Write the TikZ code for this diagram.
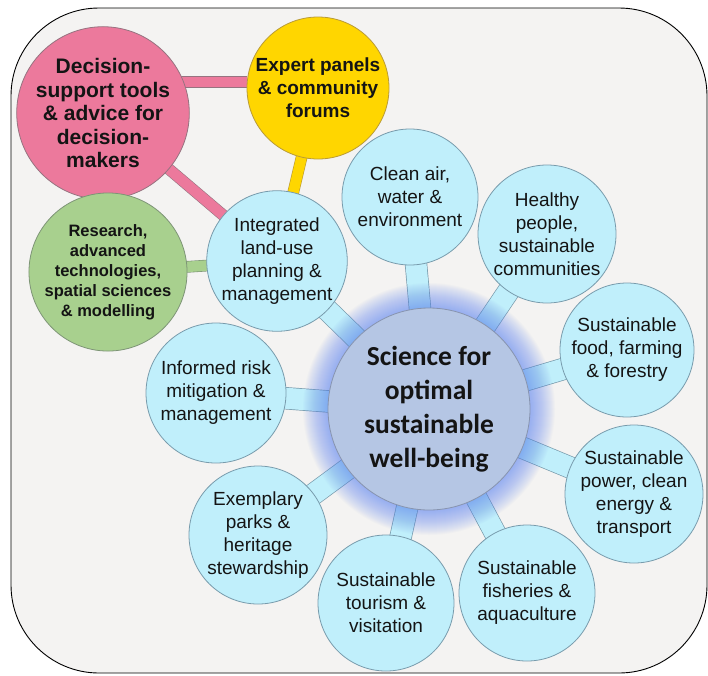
\documentclass[tikz,border=0pt]{standalone}
\usepackage{fontspec}
\setmainfont{Liberation Sans}
\newfontfamily\hubfont{Carlito}
\usetikzlibrary{calc}

\definecolor{bgfill}{RGB}{244,243,242}
\definecolor{cyanfill}{RGB}{192,239,251}
\definecolor{cyanline}{RGB}{120,155,172}
\definecolor{hubfill}{RGB}{181,198,228}
\definecolor{hubline}{RGB}{135,148,175}
\definecolor{glowblue}{RGB}{95,135,240}
\definecolor{pinkfill}{RGB}{236,121,156}
\definecolor{pinkline}{RGB}{150,115,128}
\definecolor{yellowfill}{RGB}{255,214,0}
\definecolor{yellowline}{RGB}{185,155,55}
\definecolor{greenfill}{RGB}{168,208,142}
\definecolor{greenline}{RGB}{125,148,118}
\definecolor{inktext}{RGB}{20,20,20}

\pgfdeclarelayer{back}
\pgfdeclarelayer{halo}
\pgfsetlayers{back,halo,main}

\tikzset{
  leaf/.style={circle, draw=cyanline, line width=0.8pt, fill=cyanfill,
    inner sep=0pt, minimum size=#1, align=center, text=inktext,
    font=\fontsize{19}{23}\selectfont},
  hubnode/.style={circle, draw=hubline, line width=0.8pt, fill=hubfill,
    inner sep=0pt, minimum size=202, align=center, text=inktext,
    font=\hubfont\bfseries\fontsize{27.5}{34}\selectfont},
  pinknode/.style={circle, draw=pinkline, line width=0.8pt, fill=pinkfill,
    inner sep=0pt, minimum size=166, align=center, text=inktext,
    font=\bfseries\fontsize{21}{23.5}\selectfont},
  yellownode/.style={circle, draw=yellowline, line width=0.8pt, fill=yellowfill,
    inner sep=0pt, minimum size=142, align=center, text=inktext,
    font=\bfseries\fontsize{19}{23}\selectfont},
  greennode/.style={circle, draw=greenline, line width=0.8pt, fill=greenfill,
    inner sep=0pt, minimum size=148, align=center, text=inktext,
    font=\bfseries\fontsize{16.5}{20}\selectfont},
  spoke/.style={draw=cyanline, line width=0.7pt, double=cyanfill, double distance=21pt},
  pinklink/.style={draw=pinkline, line width=0.6pt, double=pinkfill, double distance=10.5pt},
  yellowlink/.style={draw=yellowline, line width=0.6pt, double=yellowfill, double distance=10.5pt},
  greenlink/.style={draw=greenline, line width=0.6pt, double=greenfill, double distance=10.5pt},
  frame/.style={draw=black, line width=0.9pt, fill=bgfill, rounded corners=88pt}
}

\begin{document}
\begin{tikzpicture}[x=1pt, y=-1pt]
\useasboundingbox (0,0) rectangle (708,675);

% hub and topic circles
\node[hubnode] (hub) at (429,409) {Science for\\optimal\\sustainable\\well-being};
\node[leaf=136] (air)    at (410,197) {Clean air,\\water \&\\environment};
\node[leaf=138] (health) at (547,234) {Healthy\\people,\\sustainable\\communities};
\node[leaf=134] (food)   at (627,350) {Sustainable\\food, farming\\\& forestry};
\node[leaf=138] (power)  at (634,494) {Sustainable\\power, clean\\energy \&\\transport};
\node[leaf=136] (fish)   at (527,593) {Sustainable\\fisheries \&\\aquaculture};
\node[leaf=136] (tour)   at (386,603) {Sustainable\\tourism \&\\visitation};
\node[leaf=138] (parks)  at (258,535) {Exemplary\\parks \&\\heritage\\stewardship};
\node[leaf=140] (risk)   at (216,393) {Informed risk\\mitigation \&\\management};
\node[leaf=136] (land)   at (277,261) {Integrated\\land-use\\planning \&\\management};

% supporting circles
\node[pinknode]   (decision) at (103,113) {Decision-\\support tools\\\& advice for\\decision-\\makers};
\node[yellownode] (expert)   at (318,88)  {Expert panels\\\& community\\forums};
\node[greennode]  (research) at (108,272) {Research,\\advanced\\technologies,\\spatial sciences\\\& modelling};

% background panel and connectors
\begin{pgfonlayer}{back}
  \path[frame] (11,8) rectangle (707,673);
  \draw[pinklink] ([yshift=6pt]expert.west) -- ([yshift=6pt]expert.west -| decision.center);
  \draw[pinklink] (decision.center) -- (land.center);
  \draw[yellowlink] (expert.center) -- (land.center);
  \draw[greenlink] (research.center) -- (land.center);
  \foreach \t in {air,health,food,power,fish,tour,parks,risk,land}
    \draw[spoke] (hub.center) -- (\t.center);
\end{pgfonlayer}

% soft blue halo round the hub
\begin{pgfonlayer}{halo}
  \foreach \k in {1,...,26}
    \fill[glowblue, opacity=0.032] (hub.center) circle ({100+\k});
\end{pgfonlayer}
\end{tikzpicture}
\end{document}
